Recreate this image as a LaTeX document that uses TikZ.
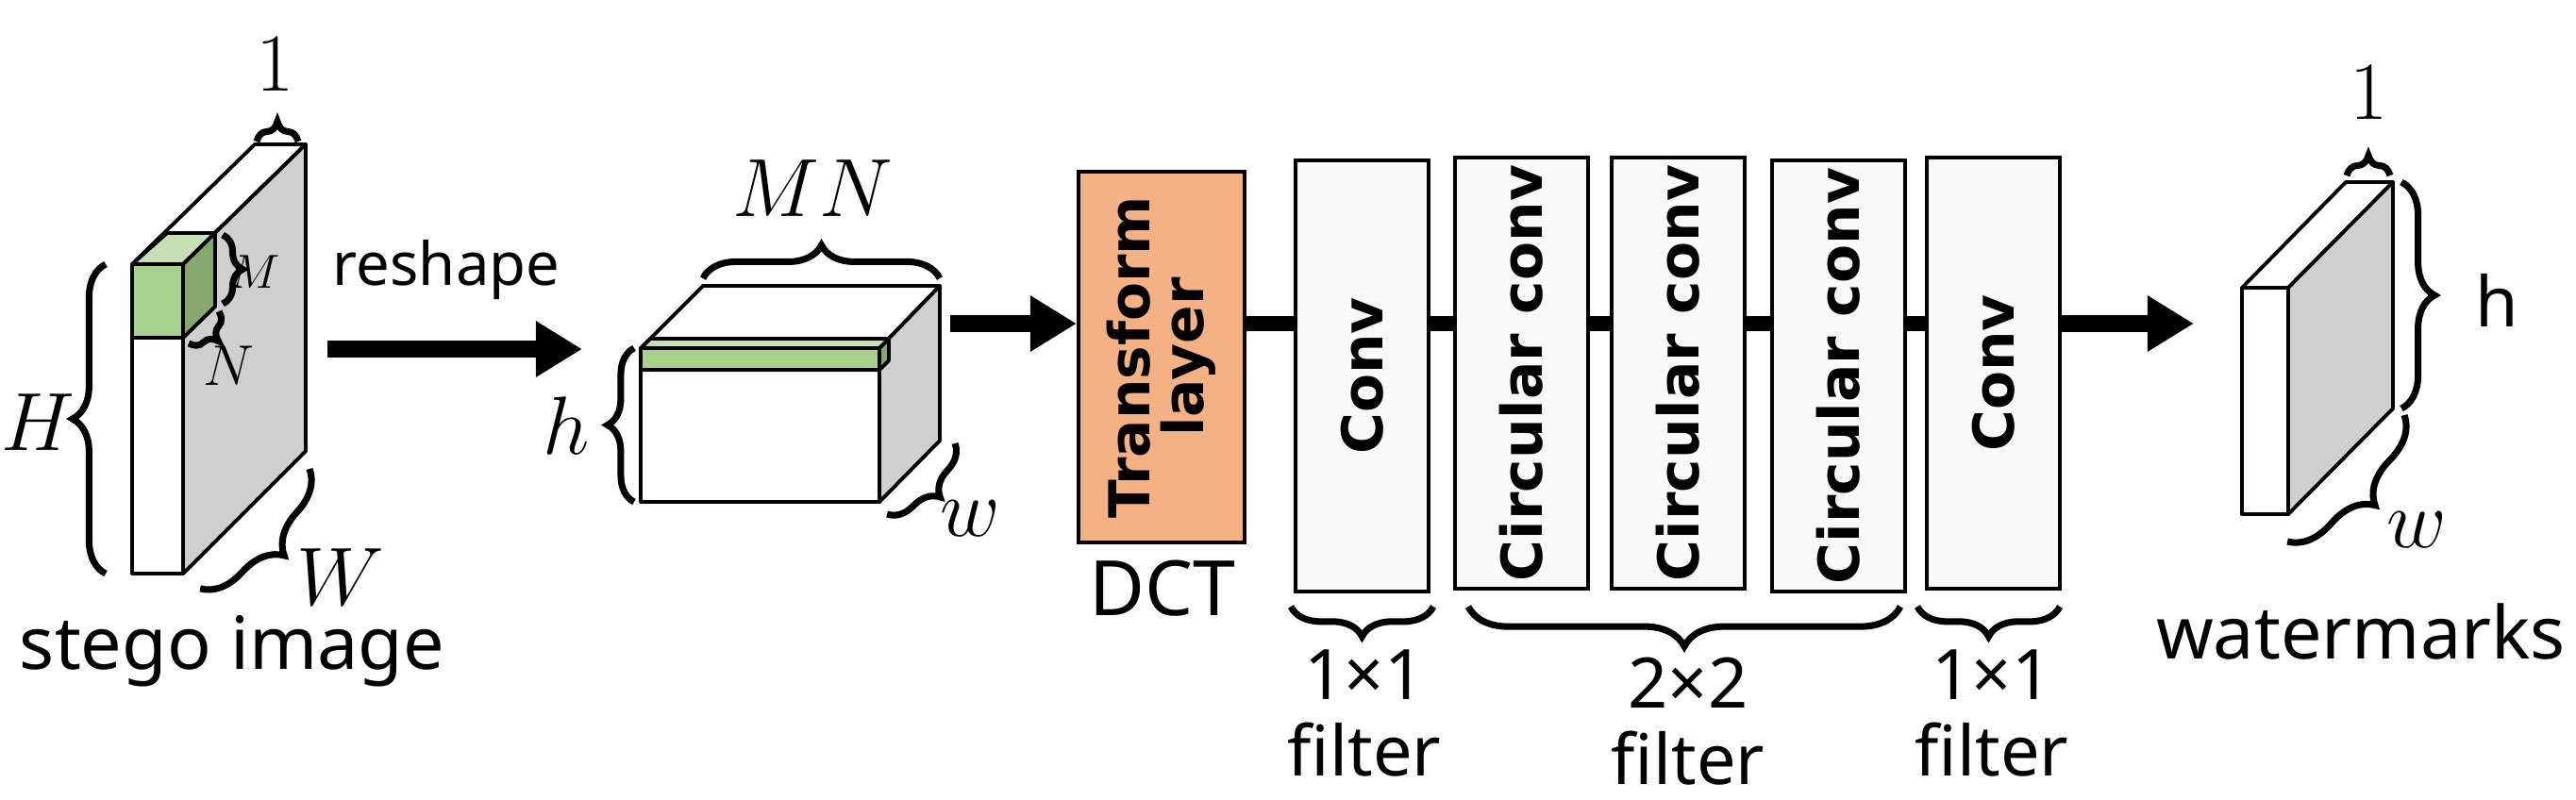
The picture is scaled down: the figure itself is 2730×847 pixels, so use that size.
\documentclass[tikz,border=0pt]{standalone}
\usepackage{fontspec}
\setmainfont{Noto Sans}
\newfontfamily\boldsans{DejaVu Sans}
\usetikzlibrary{arrows.meta,decorations.pathreplacing,positioning}
\definecolor{tfill}{HTML}{F4B183}
\definecolor{gfront}{HTML}{A9D18E}
\definecolor{gtop}{HTML}{C5E0B4}
\definecolor{gside}{HTML}{86A86E}
\begin{document}
\begin{tikzpicture}[x=0.01cm,y=-0.01cm,
  edge/.style={line width=1.1pt,line join=round},
  br/.style={decorate,decoration={brace,amplitude=#1},line width=2pt},
  br/.default=9pt,
  layer/.style={draw,line width=1.1pt,fill=gray!5,minimum width=40pt,anchor=north west,inner sep=0pt},
  vtext/.style={rotate=90,font=\boldsans\bfseries\fontsize{17}{19}\selectfont,align=center},
  lbl/.style={font=\fontsize{21}{23}\selectfont},
  mth/.style={font=\fontsize{25}{27}\selectfont},
  flow/.style={line width=4.8pt},
  bigarrow/.style={line width=5pt,-{Triangle[length=14pt,width=16pt]}}]
\useasboundingbox (0,0) rectangle (2730,847);
% ---------- stego image slab
\fill[white] (140,280) rectangle (194,608);
\draw[edge,fill=white] (140,280) -- (270,153) -- (324,153) -- (194,280) -- cycle;
\draw[edge,fill=gray!38] (194,280) -- (324,153) -- (324,478) -- (194,608) -- cycle;
\draw[edge] (140,280) rectangle (194,608);
% green block
\draw[edge,fill=gfront] (140,280) rectangle (194,358);
\draw[edge,fill=gtop] (140,280) -- (177,247) -- (228,247) -- (194,280) -- cycle;
\draw[edge,fill=gside] (194,280) -- (228,247) -- (228,325) -- (194,358) -- cycle;
\draw[br=6pt] (236,249) -- (236,322);
\node[font=\fontsize{14}{16}\selectfont] (lM) at (270,288) {$M$};
\draw[br=6pt] (232,330) -- (200,364);
\node[font=\fontsize{17}{19}\selectfont] (lN) at (242,388) {$N$};
\draw[br=10pt] (112,608) -- (112,280);
\node[mth] (lH) at (40,448) {$H$};
\draw[br=6pt] (272,150) -- (316,150);
\node[mth] (l1a) at (292,68) {$1$};
\draw[br=12pt] (328,497) -- (212,624);
\node[mth] (lW) at (361,612) {$W$};
\node[font=\fontsize{22}{24}\selectfont] (stego) at (246,690) {stego image};
% reshape arrow
\coordinate (r1) at (347,370);
\coordinate (r2) at (617,370);
\draw[bigarrow] (r1) -- (r2);
\node[font=\fontsize{18}{20}\selectfont] (resh) at (473,286) {reshape};
% ---------- reshaped cube
\draw[edge,fill=white] (679,369) -- (745,303) -- (996,303) -- (932,369) -- cycle;
\draw[edge,fill=gray!38] (932,369) -- (996,303) -- (996,467) -- (932,532) -- cycle;
\draw[edge,fill=white] (679,369) rectangle (932,532);
\draw[edge,fill=gtop] (679,369) -- (689,359) -- (942,359) -- (932,369) -- cycle;
\draw[edge,fill=gfront] (679,369) rectangle (932,392);
\draw[edge,fill=gside] (932,369) -- (942,359) -- (942,382) -- (932,392) -- cycle;
\draw[br=10pt] (745,295) -- (996,295);
\node[mth] (lMN) at (861,200) {$MN$};
\draw[br=8pt] (672,532) -- (672,369);
\node[mth] (lh) at (600,451) {$h$};
\draw[br=8pt] (1012,470) -- (940,545);
\node[mth] (lw) at (1028,550) {$w$};
% ---------- layers
\node[draw,line width=1.1pt,fill=tfill,anchor=north west,minimum width=50pt,minimum height=111.8pt,inner sep=0pt] (tl) at (1141,180) {};
\node[vtext] at (tl.center) {Transform\\[-3pt]layer};
\node[font=\fontsize{23}{25}\selectfont] (dct) at (1232,624) {DCT};
\node[layer,minimum height=130pt] (c1) at (1371,168) {};
\node[layer,minimum height=130pt] (cc1) at (1540,165) {};
\node[layer,minimum height=130pt] (cc2) at (1706,165) {};
\node[layer,minimum height=130pt] (cc3) at (1876,168) {};
\node[layer,minimum height=130pt] (c2) at (2040,165) {};
\node[vtext] at (c1.center) {Conv};
\node[vtext] at (cc1.center) {Circular conv};
\node[vtext] at (cc2.center) {Circular conv};
\node[vtext] at (cc3.center) {Circular conv};
\node[vtext] at (c2.center) {Conv};
\coordinate (cubeout) at (1007,343);
\coordinate (wmin) at (2325,343);
\draw[bigarrow] (cubeout) -- (tl.west |- cubeout);
\draw[flow] (tl.east |- cubeout) -- (c1.west |- cubeout);
\draw[flow] (c1.east |- cubeout) -- (cc1.west |- cubeout);
\draw[flow] (cc1.east |- cubeout) -- (cc2.west |- cubeout);
\draw[flow] (cc2.east |- cubeout) -- (cc3.west |- cubeout);
\draw[flow] (cc3.east |- cubeout) -- (c2.west |- cubeout);
\draw[bigarrow] (c2.east |- cubeout) -- (wmin);
% braces under layers
\draw[br=9pt] (1519,643) -- (1368,643);
\draw[br=12pt] (2014,643) -- (1556,643);
\draw[br=9pt] (2183,643) -- (2032,643);
\node[lbl,align=center] (f1) at (1446,756) {1×1\\filter};
\node[lbl,align=center] (f2) at (1789,765) {2×2\\filter};
\node[lbl,align=center] (f3) at (2111,756) {1×1\\filter};
% ---------- watermarks slab
\draw[edge,fill=white] (2376,305) -- (2486,193) -- (2536,193) -- (2425,305) -- cycle;
\draw[edge,fill=gray!38] (2425,305) -- (2536,193) -- (2536,433) -- (2425,545) -- cycle;
\draw[edge,fill=white] (2376,305) rectangle (2425,545);
\draw[br=6pt] (2487,186) -- (2533,186);
\node[mth] (l1b) at (2511,98) {$1$};
\draw[br=10pt] (2545,193) -- (2545,433);
\node[lbl] (lh2) at (2646,318) {h};
\draw[br=12pt] (2548,440) -- (2424,574);
\node[mth] (lw2) at (2561,562) {$w$};
\node[font=\fontsize{22}{24}\selectfont] (wm) at (2502,669) {watermarks};
\end{tikzpicture}
\end{document}
